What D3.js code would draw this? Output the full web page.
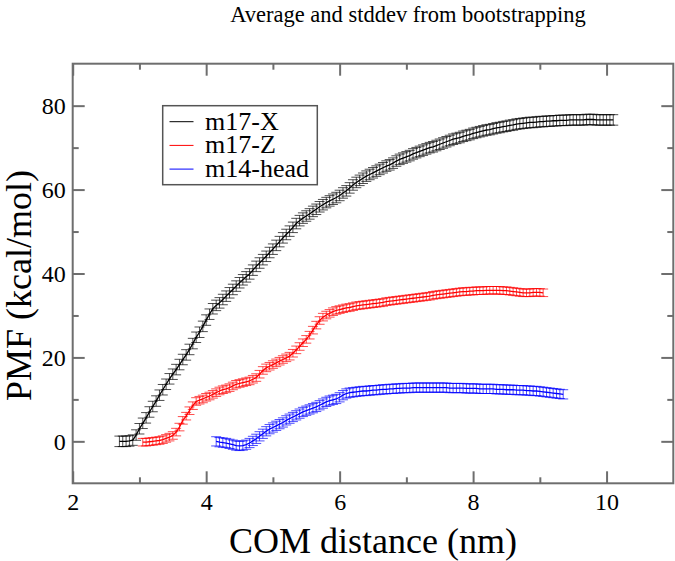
<!DOCTYPE html>
<html>
<head>
<meta charset="utf-8">
<script src="https://cdn.jsdelivr.net/npm/d3@7"></script>
<style>
  html, body { margin: 0; padding: 0; background: #fff; }
  svg { display: block; }
  text { font-family: "Liberation Serif", "Times New Roman", serif; fill: #000; }
</style>
</head>
<body>
<svg id="chart" width="675" height="561"></svg>
<script>
// ---------------- data ----------------
const titleText = "Average and stddev from bootstrapping";
const xLabel = "COM distance (nm)";
const yLabel = "PMF (kcal/mol)";
const xMajorTicks = [2, 4, 6, 8, 10];
const xMinorTicks = [3, 5, 7, 9];
const yMajorTicks = [0, 20, 40, 60, 80];
const yMinorTicks = [10, 30, 50, 70];
const seriesNames = ["m17-X", "m17-Z", "m14-head"];
const seriesColors = ["#000000", "#ff0000", "#0000ff"];

// sampling grid of each series (nm): start and spacing of the windows
const m17XStart = 2.70, m17ZStart = 3.05, m14Start = 4.15, sampleStep = 0.05;

// PMF values (kcal/mol)
const m17X = [
  0, 0, 0, 0.1, 0.3, 1.5, 3.0, 4.3, 5.6, 7.0,
  8.3, 9.6, 11.0, 12.3, 13.6, 14.9, 16.0, 17.1, 18.3, 19.5,
  20.6, 21.9, 23.3, 24.8, 26.0, 27.4, 28.9, 30.3, 31.6, 32.4,
  33.0, 33.8, 34.6, 35.4, 36.2, 37.0, 37.8, 38.5, 39.2, 39.9,
  40.8, 41.7, 42.5, 43.3, 44.1, 45.0, 45.8, 46.7, 47.6, 48.5,
  49.3, 50.1, 51.0, 51.9, 52.6, 53.2, 53.7, 54.2, 54.8, 55.3,
  55.9, 56.4, 56.9, 57.3, 57.7, 58.1, 58.6, 59.2, 59.7, 60.4,
  61.1, 61.7, 62.2, 62.7, 63.2, 63.6, 64.0, 64.4, 64.8, 65.2,
  65.6, 65.9, 66.3, 66.8, 67.2, 67.5, 67.8, 68.1, 68.5, 68.8,
  69.1, 69.4, 69.7, 70.0, 70.2, 70.5, 70.8, 71.1, 71.4, 71.7,
  72.0, 72.2, 72.4, 72.7, 72.9, 73.1, 73.4, 73.6, 73.8, 74.0,
  74.2, 74.3, 74.5, 74.7, 74.8, 75.0, 75.1, 75.3, 75.4, 75.6,
  75.7, 75.8, 75.9, 76.0, 76.0, 76.1, 76.2, 76.2, 76.3, 76.3,
  76.4, 76.4, 76.5, 76.5, 76.5, 76.6, 76.6, 76.6, 76.6, 76.6,
  76.7, 76.7, 76.7, 76.6, 76.6, 76.6, 76.6, 76.6, 76.6
];
const m17Z = [
  -0.2, -0.2, -0.1, 0.0, 0.1, 0.2, 0.4, 0.7, 1.0, 1.4,
  2.2, 3.4, 5.0, 6.0, 7.3, 8.5, 9.5, 9.8, 10.1, 10.5,
  10.8, 11.2, 11.6, 12.0, 12.3, 12.5, 12.8, 13.2, 13.6, 13.8,
  14.0, 14.2, 14.4, 14.8, 15.2, 16.0, 16.9, 17.5, 17.9, 18.3,
  18.7, 19.1, 19.5, 19.9, 20.3, 21.0, 21.8, 22.6, 23.5, 24.3,
  25.3, 26.5, 27.7, 28.8, 29.6, 30.1, 30.5, 30.9, 31.2, 31.4,
  31.6, 31.8, 31.9, 32.1, 32.3, 32.4, 32.5, 32.6, 32.7, 32.8,
  32.9, 33.0, 33.1, 33.3, 33.4, 33.5, 33.6, 33.7, 33.8, 33.9,
  34.0, 34.1, 34.2, 34.3, 34.4, 34.5, 34.6, 34.8, 34.9, 35.0,
  35.1, 35.2, 35.3, 35.4, 35.5, 35.6, 35.7, 35.7, 35.8, 35.8,
  35.9, 35.9, 35.9, 36.0, 36.0, 36.0, 36.0, 36.0, 35.9, 35.9,
  35.8, 35.7, 35.6, 35.5, 35.4, 35.4, 35.4, 35.5, 35.5, 35.5,
  35.4
];
const m14Head = [
  0.0, -0.2, -0.3, -0.4, -0.6, -0.8, -1.0, -1.1, -1.0, -0.8,
  -0.4, 0.1, 0.6, 1.2, 1.8, 2.4, 2.9, 3.3, 3.7, 4.1,
  4.5, 5.0, 5.4, 5.8, 6.2, 6.6, 7.0, 7.3, 7.6, 7.9,
  8.2, 8.6, 9.0, 9.4, 9.7, 9.9, 10.1, 10.5, 11.0, 11.4,
  11.6, 11.7, 11.8, 11.9, 12.0, 12.0, 12.1, 12.2, 12.2, 12.3,
  12.4, 12.4, 12.5, 12.5, 12.6, 12.6, 12.7, 12.7, 12.7, 12.8,
  12.8, 12.8, 12.8, 12.8, 12.8, 12.8, 12.8, 12.8, 12.8, 12.8,
  12.7, 12.7, 12.7, 12.7, 12.7, 12.6, 12.6, 12.6, 12.6, 12.5,
  12.5, 12.5, 12.5, 12.5, 12.4, 12.4, 12.4, 12.3, 12.3, 12.3,
  12.2, 12.2, 12.2, 12.1, 12.1, 12.0, 12.0, 11.9, 11.8, 11.7,
  11.6, 11.5, 11.4, 11.3, 11.2
];
// bootstrap standard deviation (kcal/mol)
const seriesStd = [1.25, 0.9, 1.1];

// ---------------- chart ----------------
const svg = d3.select("#chart");
const plot = { left: 72.7, right: 673.3, top: 63.7, bottom: 483.3 };
const frameColor = "#6e6e6e";

const x = d3.scaleLinear().domain([2, 11]).range([plot.left, plot.right]);
const y = d3.scaleLinear().domain([-10, 90]).range([plot.bottom, plot.top]);

const series = [
  { name: seriesNames[0], color: seriesColors[0], start: m17XStart, values: m17X, std: seriesStd[0] },
  { name: seriesNames[1], color: seriesColors[1], start: m17ZStart, values: m17Z, std: seriesStd[1] },
  { name: seriesNames[2], color: seriesColors[2], start: m14Start, values: m14Head, std: seriesStd[2] }
].map(s => ({ ...s, points: s.values.map((v, i) => ({ x: s.start + i * sampleStep, y: v })) }));

// title
svg.append("text")
  .attr("x", 408)
  .attr("y", 22)
  .attr("text-anchor", "middle")
  .style("font-size", "22.5px")
  .text(titleText);

// data: error bars + lines
const capHalf = 5;
const dataG = svg.append("g");
series.forEach(s => {
  const g = dataG.append("g");
  const eb = g.selectAll("g.eb").data(s.points).join("g").attr("class", "eb")
    .attr("stroke", s.color).attr("stroke-width", 0.7).attr("fill", "none");
  eb.append("line")
    .attr("x1", d => x(d.x)).attr("x2", d => x(d.x))
    .attr("y1", d => y(d.y - s.std)).attr("y2", d => y(d.y + s.std));
  eb.append("line")
    .attr("x1", d => x(d.x) - capHalf).attr("x2", d => x(d.x) + capHalf)
    .attr("y1", d => y(d.y + s.std)).attr("y2", d => y(d.y + s.std));
  eb.append("line")
    .attr("x1", d => x(d.x) - capHalf).attr("x2", d => x(d.x) + capHalf)
    .attr("y1", d => y(d.y - s.std)).attr("y2", d => y(d.y - s.std));
  g.append("path")
    .datum(s.points)
    .attr("fill", "none")
    .attr("stroke", s.color)
    .attr("stroke-width", 1.3)
    .attr("d", d3.line().x(d => x(d.x)).y(d => y(d.y)));
});

// frame
svg.append("rect")
  .attr("x", plot.left).attr("y", plot.top)
  .attr("width", plot.right - plot.left).attr("height", plot.bottom - plot.top)
  .attr("fill", "none").attr("stroke", frameColor).attr("stroke-width", 2);

function styleAxis(g) {
  g.select(".domain").remove();
  g.selectAll(".tick line").attr("stroke", frameColor).attr("stroke-width", 2);
  g.selectAll(".tick text").style("font-size", "24px").attr("fill", "#000")
    .style("font-family", '"Liberation Serif", "Times New Roman", serif');
}

// bottom
svg.append("g").attr("transform", `translate(0,${plot.bottom})`)
  .call(d3.axisBottom(x).tickValues(xMajorTicks).tickSize(-12).tickPadding(10).tickFormat(d3.format("d")))
  .call(styleAxis);
svg.append("g").attr("transform", `translate(0,${plot.bottom})`)
  .call(d3.axisBottom(x).tickValues(xMinorTicks).tickSize(-6).tickFormat(""))
  .call(styleAxis);
// top
svg.append("g").attr("transform", `translate(0,${plot.top})`)
  .call(d3.axisTop(x).tickValues(xMajorTicks).tickSize(-12).tickFormat(""))
  .call(styleAxis);
svg.append("g").attr("transform", `translate(0,${plot.top})`)
  .call(d3.axisTop(x).tickValues(xMinorTicks).tickSize(-6).tickFormat(""))
  .call(styleAxis);
// left
svg.append("g").attr("transform", `translate(${plot.left},0)`)
  .call(d3.axisLeft(y).tickValues(yMajorTicks).tickSize(-12).tickPadding(7).tickFormat(d3.format("d")))
  .call(styleAxis);
svg.append("g").attr("transform", `translate(${plot.left},0)`)
  .call(d3.axisLeft(y).tickValues(yMinorTicks).tickSize(-6).tickFormat(""))
  .call(styleAxis);
// right
svg.append("g").attr("transform", `translate(${plot.right},0)`)
  .call(d3.axisRight(y).tickValues(yMajorTicks).tickSize(-12).tickFormat(""))
  .call(styleAxis);
svg.append("g").attr("transform", `translate(${plot.right},0)`)
  .call(d3.axisRight(y).tickValues(yMinorTicks).tickSize(-6).tickFormat(""))
  .call(styleAxis);

// axis titles
svg.append("text")
  .attr("x", (plot.left + plot.right) / 2)
  .attr("y", 553)
  .attr("text-anchor", "middle")
  .style("font-size", "36px")
  .text(xLabel);
svg.append("text")
  .attr("transform", `translate(31,${(plot.top + plot.bottom) / 2 + 12}) rotate(-90)`)
  .attr("text-anchor", "middle")
  .style("font-size", "36px")
  .text(yLabel);

// legend
const lg = svg.append("g");
lg.append("rect")
  .attr("x", 162.7).attr("y", 105.7).attr("width", 154.6).attr("height", 79)
  .attr("fill", "#fff").attr("stroke", "#555").attr("stroke-width", 1.5);
series.forEach((s, i) => {
  const cy = 121.7 + i * 23.7;
  lg.append("line").attr("x1", 169.5).attr("x2", 193.5).attr("y1", cy).attr("y2", cy)
    .attr("stroke", s.color).attr("stroke-width", 1);
  lg.append("text").attr("x", 205).attr("y", cy + 8)
    .style("font-size", "26px").text(s.name);
});
</script>
</body>
</html>
